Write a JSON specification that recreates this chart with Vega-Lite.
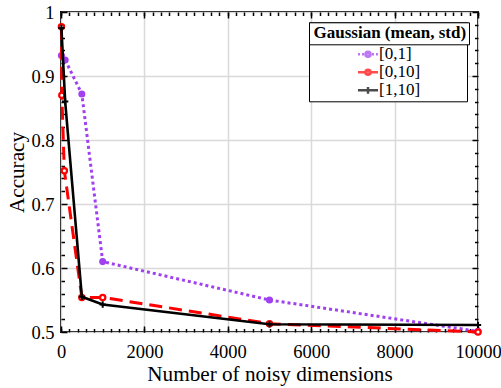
{
  "$schema": "https://vega.github.io/schema/vega-lite/v6.json",
  "width": 417,
  "height": 320,
  "autosize": {"type": "none"},
  "padding": {"left": 61, "top": 12, "right": 23, "bottom": 56},
  "background": "white",
  "config": {
    "font": "Liberation Serif",
    "view": {"stroke": "black", "strokeWidth": 2},
    "axis": {
      "labelFont": "Liberation Serif", "labelFontSize": 18.5, "labelColor": "black",
      "titleFont": "Liberation Serif", "titleFontSize": 21.2, "titleFontWeight": "normal", "titleColor": "black",
      "tickColor": "black", "tickWidth": 1.5, "gridColor": "#d9d9d9", "gridWidth": 1.5,
      "labelFlush": false, "labelOverlap": false
    },
    "legend": {"labelFont": "Liberation Serif", "titleFont": "Liberation Serif"}
  },
  "data": {
    "values": [
      {"series": "[0,1]", "x": 10, "y": 0.932},
      {"series": "[0,1]", "x": 100, "y": 0.925},
      {"series": "[0,1]", "x": 500, "y": 0.872},
      {"series": "[0,1]", "x": 1000, "y": 0.61},
      {"series": "[0,1]", "x": 5000, "y": 0.55},
      {"series": "[0,1]", "x": 10000, "y": 0.501},
      {"series": "[0,10]", "x": 10, "y": 0.977},
      {"series": "[0,10]", "x": 20, "y": 0.87},
      {"series": "[0,10]", "x": 80, "y": 0.752},
      {"series": "[0,10]", "x": 500, "y": 0.554},
      {"series": "[0,10]", "x": 1000, "y": 0.554},
      {"series": "[0,10]", "x": 5000, "y": 0.513},
      {"series": "[0,10]", "x": 10000, "y": 0.5},
      {"series": "[1,10]", "x": 10, "y": 0.975},
      {"series": "[1,10]", "x": 100, "y": 0.86},
      {"series": "[1,10]", "x": 500, "y": 0.555},
      {"series": "[1,10]", "x": 1000, "y": 0.543},
      {"series": "[1,10]", "x": 5000, "y": 0.512},
      {"series": "[1,10]", "x": 10000, "y": 0.511}
    ]
  },
  "resolve": {"axis": {"x": "independent", "y": "independent"}},
  "layer": [
    {
      "transform": [{"filter": "datum.series === '[0,1]'"}],
      "mark": {"type": "line", "color": "#a040f0", "strokeWidth": 3, "strokeDash": [3, 3]},
      "encoding": {
        "x": {"field": "x", "type": "quantitative", "scale": {"domain": [0, 10000], "nice": false, "zero": false},
          "axis": {"orient": "bottom", "values": [0, 2000, 4000, 6000, 8000, 10000], "format": "d", "ticks": false, "tickSize": 0, "domain": false, "grid": true, "labelPadding": 10, "title": "Number of noisy dimensions", "titlePadding": 3}},
        "y": {"field": "y", "type": "quantitative", "scale": {"domain": [0.5, 1], "nice": false, "zero": false},
          "axis": {"orient": "left", "values": [0.5, 0.6, 0.7, 0.8, 0.9, 1], "format": ".1~f", "ticks": false, "tickSize": 0, "domain": false, "grid": true, "labelPadding": 7, "title": "Accuracy", "titlePadding": 3}}
      }
    },
    {
      "transform": [{"filter": "datum.series === '[0,1]'"}],
      "mark": {"type": "point", "shape": "circle", "filled": true, "color": "#a040f0", "size": 50, "opacity": 1},
      "encoding": {
        "x": {"field": "x", "type": "quantitative", "scale": {"domain": [0, 10000], "nice": false, "zero": false},
          "axis": {"orient": "bottom", "values": [0, 2000, 4000, 6000, 8000, 10000], "labels": false, "domain": false, "grid": false, "ticks": true, "tickSize": 6, "offset": -6, "title": null}},
        "y": {"field": "y", "type": "quantitative", "scale": {"domain": [0.5, 1], "nice": false, "zero": false},
          "axis": {"orient": "left", "values": [0.5, 0.6, 0.7, 0.8, 0.9, 1], "labels": false, "domain": false, "grid": false, "ticks": true, "tickSize": 6, "offset": -6, "title": null}}
      }
    },
    {
      "transform": [{"filter": "datum.series === '[0,10]'"}],
      "mark": {"type": "line", "color": "#ff0000", "strokeWidth": 3, "strokeDash": [13, 7]},
      "encoding": {
        "x": {"field": "x", "type": "quantitative", "scale": {"domain": [0, 10000], "nice": false, "zero": false},
          "axis": {"orient": "bottom", "values": [0,200,400,600,800,1000,1200,1400,1600,1800,2000,2200,2400,2600,2800,3000,3200,3400,3600,3800,4000,4200,4400,4600,4800,5000,5200,5400,5600,5800,6000,6200,6400,6600,6800,7000,7200,7400,7600,7800,8000,8200,8400,8600,8800,9000,9200,9400,9600,9800,10000], "labels": false, "domain": false, "grid": false, "ticks": true, "tickSize": 3.5, "offset": -3.5, "title": null}},
        "y": {"field": "y", "type": "quantitative", "scale": {"domain": [0.5, 1], "nice": false, "zero": false},
          "axis": {"orient": "left", "values": [0.52,0.54,0.56,0.58,0.62,0.64,0.66,0.68,0.72,0.74,0.76,0.78,0.82,0.84,0.86,0.88,0.92,0.94,0.96,0.98], "labels": false, "domain": false, "grid": false, "ticks": true, "tickSize": 3.5, "offset": -3.5, "title": null}}
      }
    },
    {
      "transform": [{"filter": "datum.series === '[0,10]'"}],
      "mark": {"type": "point", "shape": "circle", "filled": true, "fill": "white", "stroke": "#ff0000", "strokeWidth": 2.2, "size": 28, "opacity": 1},
      "encoding": {
        "x": {"field": "x", "type": "quantitative", "scale": {"domain": [0, 10000], "nice": false, "zero": false},
          "axis": {"orient": "top", "values": [0, 2000, 4000, 6000, 8000, 10000], "labels": false, "domain": false, "grid": false, "ticks": true, "tickSize": 6, "offset": -6, "title": null}},
        "y": {"field": "y", "type": "quantitative", "scale": {"domain": [0.5, 1], "nice": false, "zero": false},
          "axis": {"orient": "right", "values": [0.5, 0.6, 0.7, 0.8, 0.9, 1], "labels": false, "domain": false, "grid": false, "ticks": true, "tickSize": 6, "offset": -6, "title": null}}
      }
    },
    {
      "transform": [{"filter": "datum.series === '[1,10]'"}],
      "mark": {"type": "line", "color": "black", "strokeWidth": 2.6},
      "encoding": {
        "x": {"field": "x", "type": "quantitative", "scale": {"domain": [0, 10000], "nice": false, "zero": false},
          "axis": {"orient": "top", "values": [0,200,400,600,800,1000,1200,1400,1600,1800,2000,2200,2400,2600,2800,3000,3200,3400,3600,3800,4000,4200,4400,4600,4800,5000,5200,5400,5600,5800,6000,6200,6400,6600,6800,7000,7200,7400,7600,7800,8000,8200,8400,8600,8800,9000,9200,9400,9600,9800,10000], "labels": false, "domain": false, "grid": false, "ticks": true, "tickSize": 3.5, "offset": -3.5, "title": null}},
        "y": {"field": "y", "type": "quantitative", "scale": {"domain": [0.5, 1], "nice": false, "zero": false},
          "axis": {"orient": "right", "values": [0.52,0.54,0.56,0.58,0.62,0.64,0.66,0.68,0.72,0.74,0.76,0.78,0.82,0.84,0.86,0.88,0.92,0.94,0.96,0.98], "labels": false, "domain": false, "grid": false, "ticks": true, "tickSize": 3.5, "offset": -3.5, "title": null}}
      }
    },
    {
      "transform": [{"filter": "datum.series === '[1,10]'"}],
      "mark": {"type": "point", "shape": "M-1,0H1M0,-1V1", "filled": false, "stroke": "black", "strokeWidth": 2, "size": 40, "opacity": 1},
      "encoding": {
        "x": {"field": "x", "type": "quantitative", "scale": {"domain": [0, 10000], "nice": false, "zero": false}, "axis": null},
        "y": {"field": "y", "type": "quantitative", "scale": {"domain": [0.5, 1], "nice": false, "zero": false}, "axis": null}
      }
    },
    {
      "transform": [{"filter": "datum.x < 0"}],
      "mark": {"type": "point", "filled": false, "strokeWidth": 2.5},
      "encoding": {
        "x": {"field": "x", "type": "quantitative", "scale": {"domain": [0, 10000], "nice": false, "zero": false}, "axis": null},
        "y": {"field": "y", "type": "quantitative", "scale": {"domain": [0.5, 1], "nice": false, "zero": false}, "axis": null},
        "color": {
          "field": "series", "type": "nominal",
          "scale": {"domain": ["[0,1]", "[0,10]", "[1,10]"], "range": ["#a040f0", "#ff0000", "#000000"]},
          "legend": {
            "orient": "none", "legendX": 248, "legendY": 10.3,
            "title": "Gaussian (mean, std)", "titleFontSize": 17, "titleFontWeight": "bold", "titleColor": "transparent", "titlePadding": 3, "titleLimit": 400,
            "padding": 2.5, "strokeColor": "black", "fillColor": "white",
            "symbolSize": 256, "symbolStrokeWidth": 2.5, "symbolOffset": 47, "labelOffset": 1.5,
            "labelFontSize": 17, "labelColor": "black", "rowPadding": 0,
            "encode": {"legend": {"update": {"strokeWidth": {"value": 1.5}}}}
          }
        },
        "shape": {
          "field": "series", "type": "nominal",
          "scale": {"domain": ["[0,1]", "[0,10]", "[1,10]"], "range": [
            "M-1.25,0H-1M-0.75,0H-0.5M0.5,0H0.75M1,0H1.25M-0.32,0A0.32,0.32 0 1,0 0.32,0A0.32,0.32 0 1,0 -0.32,0ZM-0.1,0A0.1,0.1 0 1,0 0.1,0A0.1,0.1 0 1,0 -0.1,0Z",
            "M-1.25,0H-0.32M0.32,0H1.25M-0.32,0A0.32,0.32 0 1,0 0.32,0A0.32,0.32 0 1,0 -0.32,0ZM-0.1,0A0.1,0.1 0 1,0 0.1,0A0.1,0.1 0 1,0 -0.1,0Z",
            "M-1.25,0H1.25M0,-0.42V0.42"
          ]},
          "legend": {
            "orient": "none", "legendX": 248, "legendY": 10.3,
            "title": "Gaussian (mean, std)", "titleFontSize": 17, "titleFontWeight": "bold", "titleColor": "transparent", "titlePadding": 3, "titleLimit": 400,
            "padding": 2.5, "strokeColor": "black", "fillColor": "white",
            "symbolSize": 256, "symbolStrokeWidth": 2.5, "symbolOffset": 47, "labelOffset": 1.5,
            "labelFontSize": 17, "labelColor": "black", "rowPadding": 0,
            "encode": {"legend": {"update": {"strokeWidth": {"value": 1.5}}}}
          }
        },
        "opacity": {
          "field": "g", "type": "ordinal",
          "scale": {"domain": ["Gaussian (mean, std)"], "range": [1]},
          "legend": {
            "orient": "none", "legendX": 248, "legendY": 10.3, "zindex": 1,
            "title": null, "padding": 2.5, "strokeColor": "black", "fillColor": "white",
            "symbolSize": 0, "symbolStrokeWidth": 0, "labelOffset": -15, "labelLimit": 400,
            "labelFontSize": 17, "labelFontWeight": "bold", "labelColor": "black",
            "encode": {"legend": {"update": {"strokeWidth": {"value": 1.5}}}}
          }
        }
      }
    }
  ]
}
